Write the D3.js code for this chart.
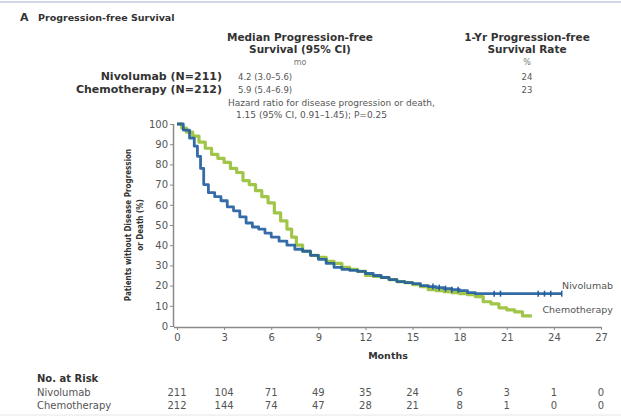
<!DOCTYPE html>
<html><head><meta charset="utf-8">
<script src="https://cdn.jsdelivr.net/npm/d3@7/dist/d3.min.js"></script>
<style>
html,body{margin:0;padding:0;background:#fff;}
svg{display:block;font-family:"DejaVu Sans",sans-serif;}
</style></head>
<body><svg id="c" width="621" height="419"></svg>
<script>
// ---- data ----
const xTicks = [0,3,6,9,12,15,18,21,24,27];
const yTicks = [0,10,20,30,40,50,60,70,80,90,100];
const nivoTimes = [0,0.4,0.8,1.1,1.3,1.5,1.7,2.0,2.4,2.8,3.2,3.6,4.0,4.4,4.8,5.2,5.6,6.0,6.5,7.0,7.5,8.0,8.5,9.0,9.5,10,10.5,11,11.5,12,12.5,13,13.5,14,14.5,15,15.5,16,16.5,17,17.5,18,18.5,19,24.5];
const nivoSurv  = [100,97,93,89,84,78,70,66,64,62,59,57,54,51,49,48,46,44,42,40,38,37,35,33,31,29,28,27.5,27,26,25,24,23,22,21.5,21,20,19.5,19,18.5,18,17.5,16.5,16,16];
const chemoTimes = [0,0.3,0.6,1.0,1.4,1.8,2.2,2.6,3.0,3.4,3.8,4.2,4.6,5.0,5.4,5.8,6.2,6.6,7.0,7.3,7.6,8.0,8.5,9.0,9.5,10,10.5,11,11.5,12,12.5,13,13.5,14,14.5,15,15.5,16,16.5,17,17.5,18,18.5,19,19.5,20,20.5,21,21.5,22,22.6];
const chemoSurv  = [100,98,96,94,91,88,85,83,81,78,76,72,70,67,64,61,56,52,48,44,40,37,35,34,32,31,29,28,27,25,24.5,24,23,22,21.5,20.5,19.5,18,17.5,17,16.5,16,15.5,14.5,12,11,9,8,7,5,5];
const nivoCensor = [16.3,16.7,17.1,17.5,17.9,20.2,20.6,23.0,23.4,23.8,24.5];
const riskLabels = ["Nivolumab","Chemotherapy"];
const riskNivo  = [211,104,71,49,35,24,6,3,1,0];
const riskChemo = [212,144,74,47,28,21,8,1,0,0];
const groups = ["Nivolumab (N=211)","Chemotherapy (N=212)"];
const medians = ["4.2 (3.0\u20135.6)","5.9 (5.4\u20136.9)"];
const yearRates = ["24","23"];

const blue = "#1f5c9e", green = "#9cc23e", txt = "#333", sub = "#555", axisC = "#8a8a8a";

const svg = d3.select("#c");
const x = d3.scaleLinear().domain([0,27]).range([177,601]);
const y = d3.scaleLinear().domain([0,100]).range([326,124]);

// top rule
svg.append("line").attr("x1",0).attr("x2",621).attr("y1",2).attr("y2",2).attr("stroke","#cdd8e4").attr("stroke-width",2);

// title
svg.append("text").attr("x",20).attr("y",21).attr("font-size",11).attr("font-weight","bold").attr("fill",txt).text("A");
svg.append("text").attr("x",38).attr("y",21).attr("font-size",9.5).attr("font-weight","bold").attr("fill",txt).text("Progression-free Survival");

// header table
const hdr = svg.append("g").attr("font-size",10.5).attr("font-weight","bold").attr("fill",txt).attr("text-anchor","middle");
hdr.append("text").attr("x",300).attr("y",41).text("Median Progression-free");
hdr.append("text").attr("x",300).attr("y",53).text("Survival (95% CI)");
hdr.append("text").attr("x",527).attr("y",41).text("1-Yr Progression-free");
hdr.append("text").attr("x",527).attr("y",53).text("Survival Rate");
svg.append("text").attr("x",300).attr("y",65).attr("text-anchor","middle").attr("font-size",8).attr("fill","#777").text("mo");
svg.append("text").attr("x",527).attr("y",65).attr("text-anchor","middle").attr("font-size",8).attr("fill","#777").text("%");
groups.forEach((g,i)=>{
  const yy = 80 + i*13;
  svg.append("text").attr("x",222).attr("y",yy).attr("text-anchor","end").attr("font-size",11).attr("font-weight","bold").attr("fill",txt).text(g);
  svg.append("text").attr("x",238).attr("y",yy).attr("font-size",8.5).attr("fill",sub).text(medians[i]);
  svg.append("text").attr("x",527).attr("y",yy).attr("text-anchor","middle").attr("font-size",8.5).attr("fill",sub).text(yearRates[i]);
});
svg.append("text").attr("x",228).attr("y",106).attr("font-size",9).attr("fill",sub).text("Hazard ratio for disease progression or death,");
svg.append("text").attr("x",236).attr("y",118).attr("font-size",9).attr("fill",sub).text("1.15 (95% CI, 0.91\u20131.45); P=0.25");

// axes
const yAxis = d3.axisLeft(y).tickValues(yTicks).tickSize(4).tickPadding(2);
const gy = svg.append("g").attr("transform","translate(174,0)").call(yAxis);
const xAxis = d3.axisBottom(x).tickValues(xTicks).tickSize(3).tickPadding(4);
const gx = svg.append("g").attr("transform","translate(0,327)").call(xAxis);
[gx,gy].forEach(g=>{
  g.select(".domain").attr("stroke",axisC).attr("stroke-width",1.5);
  g.selectAll(".tick line").attr("stroke",axisC);
  g.selectAll(".tick text").attr("font-size",10).attr("fill",sub).attr("font-family","DejaVu Sans, sans-serif");
});
gx.select(".domain").attr("d","M174,0.5H601.5");
gy.select(".domain").attr("d","M-0.5,124V327");

// y label
const yl = svg.append("g").attr("transform","translate(131,225) rotate(-90)").attr("text-anchor","middle").attr("font-size",8).attr("font-weight","bold").attr("fill",txt).attr("font-family","DejaVu Sans Condensed, DejaVu Sans, sans-serif");
yl.append("text").attr("x",0).attr("y",0).text("Patients without Disease Progression");
yl.append("text").attr("x",0).attr("y",12).text("or Death (%)");

svg.append("text").attr("x",388).attr("y",359).attr("text-anchor","middle").attr("font-size",9.5).attr("font-weight","bold").attr("fill",txt).text("Months");

// curves
const line = d3.line().x(d=>x(d[0])).y(d=>y(d[1])).curve(d3.curveStepAfter);
const chemoData = chemoTimes.map((t,i)=>[t,chemoSurv[i]]);
const nivoData = nivoTimes.map((t,i)=>[t,nivoSurv[i]]);
svg.append("path").attr("d",line(chemoData)).attr("fill","none").attr("stroke",green).attr("stroke-width",3.2).attr("stroke-linejoin","round").attr("opacity",0.95);
svg.append("path").attr("d",line(nivoData)).attr("fill","none").attr("stroke",blue).attr("stroke-width",2.8).attr("stroke-linejoin","round").attr("opacity",0.9);
// censor marks
const stepVal = (times,vals,t)=>{let v=vals[0];for(let i=0;i<times.length;i++){if(times[i]<=t)v=vals[i];}return v;};
svg.append("g").selectAll("line").data(nivoCensor).join("line")
  .attr("x1",d=>x(d)).attr("x2",d=>x(d))
  .attr("y1",d=>y(stepVal(nivoTimes,nivoSurv,d))-3).attr("y2",d=>y(stepVal(nivoTimes,nivoSurv,d))+3)
  .attr("stroke",blue).attr("stroke-width",1.5);

svg.append("text").attr("x",613).attr("y",289).attr("text-anchor","end").attr("font-size",9.5).attr("fill",sub).text("Nivolumab");
svg.append("text").attr("x",613).attr("y",313).attr("text-anchor","end").attr("font-size",9.5).attr("fill",sub).text("Chemotherapy");

// risk table
svg.append("text").attr("x",37).attr("y",382).attr("font-size",10).attr("font-weight","bold").attr("fill",txt).text("No. at Risk");
[riskNivo,riskChemo].forEach((arr,i)=>{
  const yy = 396 + i*12.5;
  svg.append("text").attr("x",37).attr("y",yy).attr("font-size",10).attr("fill",sub).text(riskLabels[i]);
  svg.append("g").selectAll("text").data(arr).join("text")
    .attr("x",(d,j)=>x(xTicks[j])).attr("y",yy).attr("text-anchor","middle").attr("font-size",10).attr("fill",sub).text(d=>d);
});
svg.append("line").attr("x1",0).attr("x2",621).attr("y1",415).attr("y2",415).attr("stroke","#e6e6e6").attr("stroke-width",1);
</script></body></html>
